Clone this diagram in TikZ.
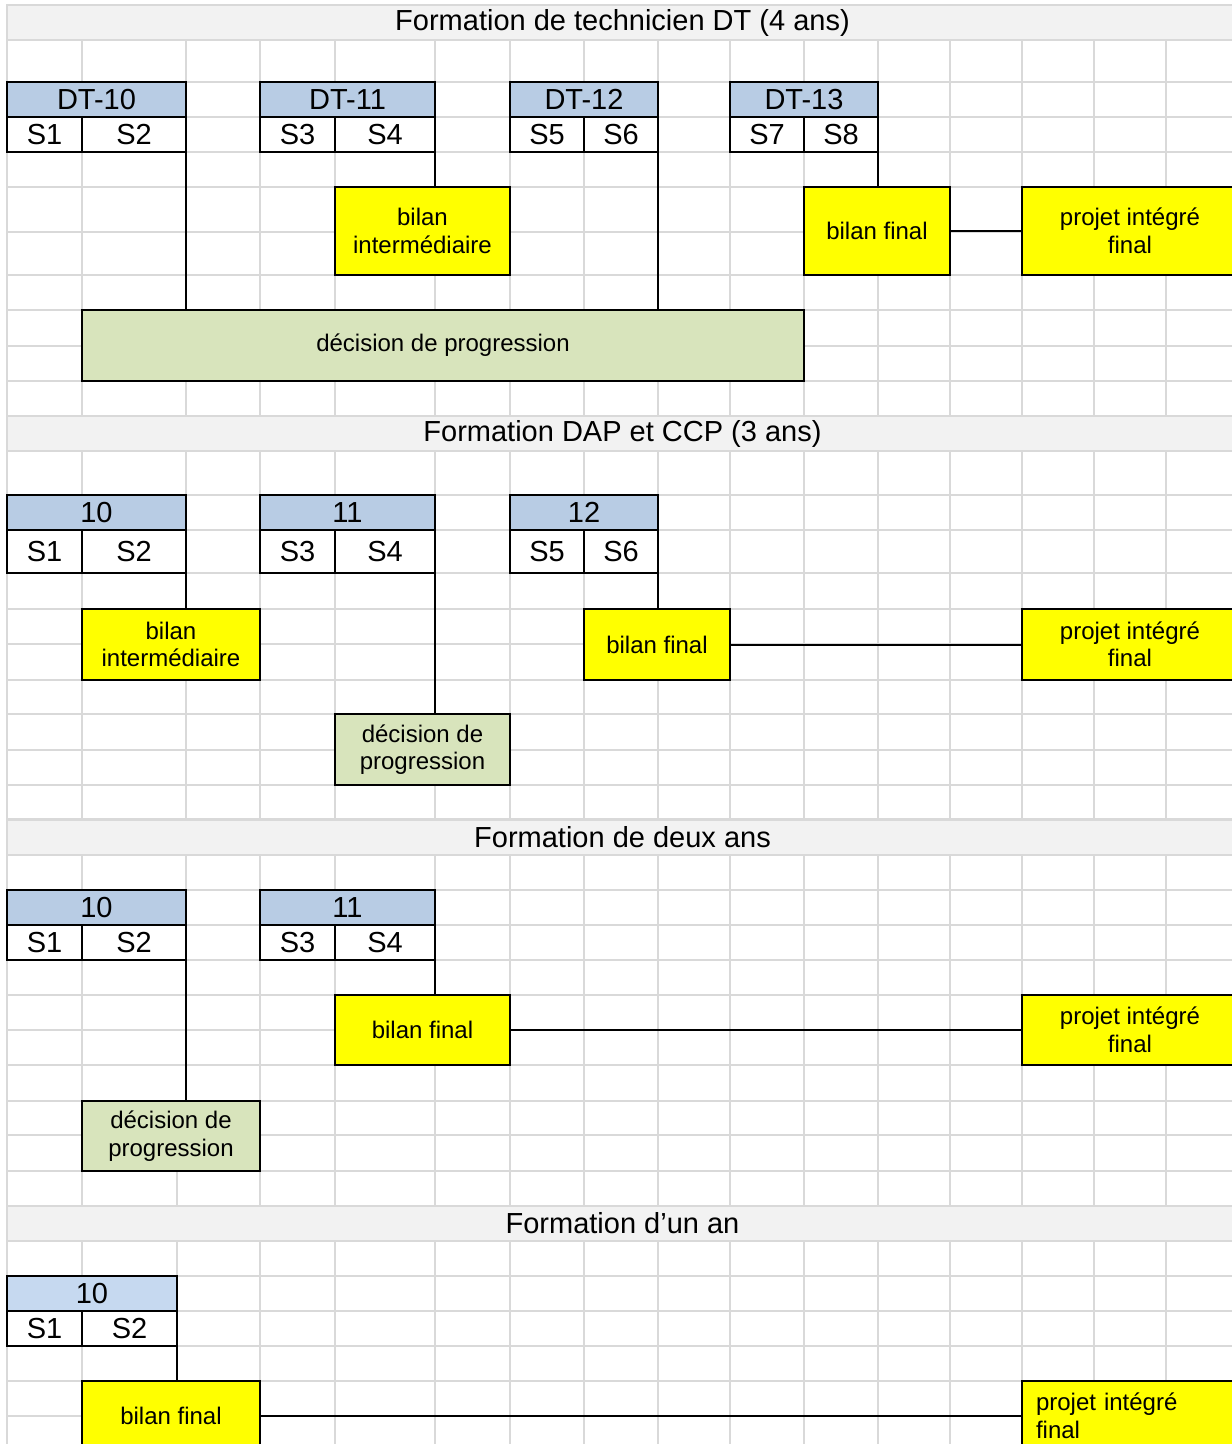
\documentclass[tikz,border=0pt]{standalone}
\usepackage{fontspec}
\setmainfont{Liberation Sans}
\usepackage{tikz}
\usepackage{xcolor}
\usetikzlibrary{positioning, calc}
\definecolor{gridgray}{HTML}{D9D9D9}
\definecolor{titlegray}{HTML}{F2F2F2}
\definecolor{yearblue}{HTML}{B8CCE4}
\definecolor{yearblue2}{HTML}{C6D9F0}
\definecolor{progreen}{HTML}{D8E4BC}
\definecolor{bilanyellow}{HTML}{FFFF00}
\tikzset{%
  gridline/.style={gridgray, line width=1.7pt},
  titre/.style={
    draw=gridgray, line width=1.7pt, fill=titlegray,
    anchor=north west, minimum width=1231pt, minimum height=35pt,
    inner sep=0pt, outer sep=0pt,
    font=\fontsize{29}{33}\selectfont
  },
  cell/.style={
    draw, line width=2pt, anchor=north west,
    minimum height=35pt, inner sep=0pt, outer sep=0pt,
    font=\fontsize{29}{33}\selectfont
  },
  year/.style={cell, fill=yearblue},
  sem/.style={cell, fill=white},
  bloc/.style={
    draw, line width=2pt, anchor=north west,
    inner sep=0pt, outer sep=0pt, align=center,
    font=\fontsize{24}{27.5}\selectfont
  },
  bilan/.style={bloc, fill=bilanyellow},
  decision/.style={bloc, fill=progreen},
  link/.style={line width=2pt}
}

\begin{document}
\begin{tikzpicture}[x=1pt, y=-1pt]
  \useasboundingbox (0,0) rectangle (1232,1444);

  % spreadsheet grid
  \foreach \y in {40,82,117,152,187,232,275,310,346,381,416}
    \draw[gridline] (7,\y) -- (1232,\y);
  \foreach \x in {7,82,186,260,335,435,510,584,658,730,804,878,950,1022,1094,1166}
    \draw[gridline] (\x,40) -- (\x,416);
  \foreach \y in {451,495,530,573,609,644,680,714,750,785,819}
    \draw[gridline] (7,\y) -- (1232,\y);
  \foreach \x in {7,82,186,260,335,435,510,584,658,730,804,878,950,1022,1094,1166}
    \draw[gridline] (\x,451) -- (\x,820);
  \foreach \y in {855,890,925,960,995,1030,1065,1101,1135,1171}
    \draw[gridline] (7,\y) -- (1232,\y);
  \foreach \x in {7,82,186,260,335,435,510,584,658,730,804,878,950,1022,1094,1166}
    \draw[gridline] (\x,855) -- (\x,1171);
  \foreach \y in {1241,1276,1311,1346,1381,1416}
    \draw[gridline] (7,\y) -- (1232,\y);
  \foreach \x in {7,82,177,260,335,435,510,584,658,730,804,878,950,1022,1094,1166}
    \draw[gridline] (\x,1171) -- (\x,1444);

  % Formation de technicien DT
  \node[titre] (t1) at (7,5) {Formation de technicien DT (4 ans)};
  \node[year, minimum width=179pt] (dt10) at (7,82) {DT-10};
  \node[sem, minimum width=75pt] (s1a) at (dt10.south west) {S1};
  \node[sem, minimum width=104pt] (s2a) at (s1a.north east) {S2};
  \node[year, minimum width=175pt] (dt11) at (260,82) {DT-11};
  \node[sem, minimum width=75pt] (s3a) at (dt11.south west) {S3};
  \node[sem, minimum width=100pt] (s4a) at (s3a.north east) {S4};
  \node[year, minimum width=148pt] (dt12) at (510,82) {DT-12};
  \node[sem, minimum width=74pt] (s5a) at (dt12.south west) {S5};
  \node[sem, minimum width=74pt] (s6a) at (s5a.north east) {S6};
  \node[year, minimum width=148pt] (dt13) at (730,82) {DT-13};
  \node[sem, minimum width=74pt] (s7a) at (dt13.south west) {S7};
  \node[sem, minimum width=74pt] (s8a) at (s7a.north east) {S8};

  \node[bilan, minimum width=175pt, minimum height=88pt] (bia) at (335,187) {bilan\\intermédiaire};
  \node[bilan, minimum width=146pt, minimum height=88pt] (bfa) at (804,187) {bilan final};
  \node[bilan, minimum width=216pt, minimum height=88pt] (pja) at (1022,187) {projet intégré\\final};
  \node[decision, minimum width=722pt, minimum height=71pt] (deca) at (82,310) {décision de progression};

  \draw[link] (s2a.south east) -- (s2a.south east |- deca.north);
  \draw[link] (s4a.south east) -- (s4a.south east |- bia.north);
  \draw[link] (s6a.south east) -- (s6a.south east |- deca.north);
  \draw[link] (s8a.south east) -- (s8a.south east |- bfa.north);
  \draw[link] (bfa.east) -- (pja.west);

  % Formation DAP et CCP
  \node[titre] (t2) at (7,416) {Formation DAP et CCP (3 ans)};
  \node[year, minimum width=179pt] (y10b) at (7,495) {10};
  \node[sem, minimum width=75pt, minimum height=43pt] (s1b) at (y10b.south west) {S1};
  \node[sem, minimum width=104pt, minimum height=43pt] (s2b) at (s1b.north east) {S2};
  \node[year, minimum width=175pt] (y11b) at (260,495) {11};
  \node[sem, minimum width=75pt, minimum height=43pt] (s3b) at (y11b.south west) {S3};
  \node[sem, minimum width=100pt, minimum height=43pt] (s4b) at (s3b.north east) {S4};
  \node[year, minimum width=148pt] (y12b) at (510,495) {12};
  \node[sem, minimum width=74pt, minimum height=43pt] (s5b) at (y12b.south west) {S5};
  \node[sem, minimum width=74pt, minimum height=43pt] (s6b) at (s5b.north east) {S6};

  \node[bilan, minimum width=178pt, minimum height=71pt] (bib) at (82,609) {bilan\\intermédiaire};
  \node[bilan, minimum width=146pt, minimum height=71pt] (bfb) at (584,609) {bilan final};
  \node[bilan, minimum width=216pt, minimum height=71pt] (pjb) at (1022,609) {projet intégré\\final};
  \node[decision, minimum width=175pt, minimum height=71pt] (decb) at (335,714) {décision de\\progression};

  \draw[link] (s2b.south east) -- (s2b.south east |- bib.north);
  \draw[link] (s4b.south east) -- (s4b.south east |- decb.north);
  \draw[link] (s6b.south east) -- (s6b.south east |- bfb.north);
  \draw[link] (bfb.east) -- (pjb.west);

  % Formation de deux ans
  \node[titre] (t3) at (7,820) {Formation de deux ans};
  \node[year, minimum width=179pt] (y10c) at (7,890) {10};
  \node[sem, minimum width=75pt] (s1c) at (y10c.south west) {S1};
  \node[sem, minimum width=104pt] (s2c) at (s1c.north east) {S2};
  \node[year, minimum width=175pt] (y11c) at (260,890) {11};
  \node[sem, minimum width=75pt] (s3c) at (y11c.south west) {S3};
  \node[sem, minimum width=100pt] (s4c) at (s3c.north east) {S4};

  \node[bilan, minimum width=175pt, minimum height=70pt] (bfc) at (335,995) {bilan final};
  \node[bilan, minimum width=216pt, minimum height=70pt] (pjc) at (1022,995) {projet intégré\\final};
  \node[decision, minimum width=178pt, minimum height=70pt] (decc) at (82,1101) {décision de\\progression};

  \draw[link] (s2c.south east) -- (s2c.south east |- decc.north);
  \draw[link] (s4c.south east) -- (s4c.south east |- bfc.north);
  \draw[link] (bfc.east) -- (pjc.west);

  % Formation d'un an
  \node[titre] (t4) at (7,1206) {Formation d’un an};
  \node[year, fill=yearblue2, minimum width=170pt] (y10d) at (7,1276) {10};
  \node[sem, minimum width=75pt] (s1d) at (y10d.south west) {S1};
  \node[sem, minimum width=95pt] (s2d) at (s1d.north east) {S2};

  \node[bilan, minimum width=178pt, minimum height=70pt] (bfd) at (82,1381) {bilan final};
  \node[bilan, align=left, text width=190pt, inner xsep=14pt, minimum height=70pt] (pjd) at (1022,1381) {projet intégré\\final};

  \draw[link] (s2d.south east) -- (s2d.south east |- bfd.north);
  \draw[link] (bfd.east) -- (pjd.west);
\end{tikzpicture}
\end{document}
